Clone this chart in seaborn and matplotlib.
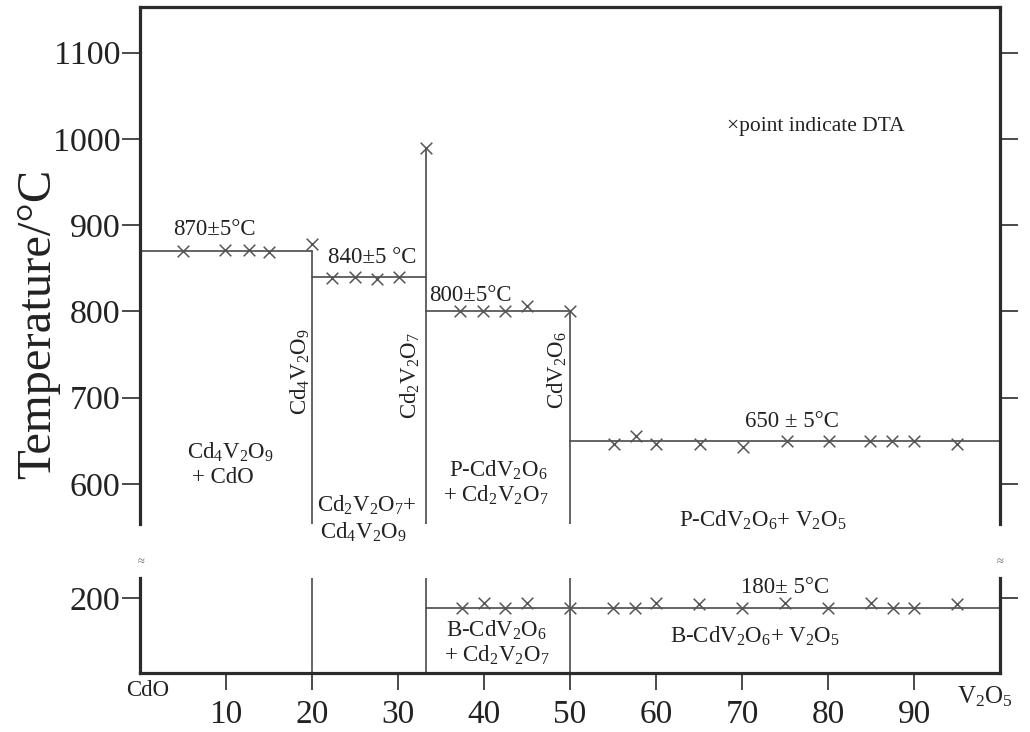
import matplotlib
matplotlib.use("Agg")
import matplotlib.pyplot as plt
import pandas as pd
import seaborn as sns

# ---- phase diagram data (CdO - V2O5), composition in mol% V2O5 ----
# invariant (horizontal) lines
inv_T = [870, 840, 800, 650]
inv_x0 = [0, 20, 33.3, 50]
inv_x1 = [20, 33.3, 50, 100]
# compound lines (vertical)
comp_x = [20, 33.3, 50]
comp_top = [870, 990, 800]
# low-temperature polymorphic transition of CdV2O6
trans_T = 180
trans_x0, trans_x1 = 33.3, 100

# DTA points, high-temperature part
dta_hi_x = [5.0, 9.9, 12.7, 15.0, 20.0,
            22.3, 25.0, 27.6, 30.1, 33.3,
            37.2, 39.9, 42.4, 45.0, 50.0,
            55.1, 57.7, 60.0, 65.1, 70.1, 75.2, 80.1, 84.9, 87.4, 90.0, 95.0]
dta_hi_T = [870, 871, 871, 869, 878,
            839, 840, 838, 840, 989,
            800, 800, 800, 806, 800,
            646, 656, 646, 646, 643, 650, 650, 650, 650, 650, 646]
# DTA points, low-temperature part
dta_lo_x = [37.5, 40.0, 42.5, 45.0, 50.0, 55.0, 57.5, 60.0, 65.0, 70.0,
            75.0, 80.0, 85.0, 87.5, 90.0, 95.0]
dta_lo_T = [180, 190, 180, 190, 180, 180, 180, 190, 188, 179,
            190, 180, 190, 180, 180, 188]

hi_ticks = [600, 700, 800, 900, 1000, 1100]
lo_ticks = [200]
x_ticks = [10, 20, 30, 40, 50, 60, 70, 80, 90]

sns.set_theme(style="white")
plt.rcParams['font.family'] = ['Liberation Serif', 'DejaVu Serif']
plt.rcParams['mathtext.fontset'] = 'custom'
plt.rcParams['mathtext.rm'] = 'Liberation Serif'
plt.rcParams['mathtext.it'] = 'Liberation Serif:italic'
plt.rcParams['mathtext.bf'] = 'Liberation Serif:bold'

LINE = "#4a4a4a"
SPINE = "#2b2b2b"
TXT = "#222222"

fig = plt.figure(figsize=(10.3, 7.32), dpi=100)
ax_hi = fig.add_axes([0.1359, 0.2842, 0.8350, 0.7063])
ax_lo = fig.add_axes([0.1359, 0.0806, 0.8350, 0.1298])

for ax in (ax_hi, ax_lo):
    ax.set_xlim(0, 100)
    ax.set_facecolor("white")
    for s in ax.spines.values():
        s.set_linewidth(2.3)
        s.set_color(SPINE)
ax_hi.set_ylim(553.6, 1153)
ax_lo.set_ylim(50, 240)
ax_hi.spines['bottom'].set_visible(False)
ax_lo.spines['top'].set_visible(False)


def seg(ax, xs, ys):
    sns.lineplot(x=xs, y=ys, ax=ax, color=LINE, linewidth=1.2,
                 estimator=None, sort=False, legend=False)


# invariant lines
for T, a, b in zip(inv_T, inv_x0, inv_x1):
    seg(ax_hi, [a, b], [T, T])
# compound lines through both panels
for cx, top in zip(comp_x, comp_top):
    seg(ax_hi, [cx, cx], [top, 553.6])
    seg(ax_lo, [cx, cx], [240, 50])
seg(ax_lo, [trans_x0, trans_x1], [trans_T, trans_T])

hi = pd.DataFrame({"x": dta_hi_x, "T": dta_hi_T})
lo = pd.DataFrame({"x": dta_lo_x, "T": dta_lo_T})
sns.scatterplot(data=hi, x="x", y="T", ax=ax_hi, marker="x", s=70,
                color="#555555", linewidth=1.1, zorder=5, legend=False)
sns.scatterplot(data=lo, x="x", y="T", ax=ax_lo, marker="x", s=70,
                color="#555555", linewidth=1.1, zorder=5, legend=False)

# axes ticks
ax_hi.set_xticks([])
ax_hi.set_yticks(hi_ticks)
ax_hi.set_yticklabels([str(t) for t in hi_ticks])
ax_hi.tick_params(axis='y', which='both', direction='out', length=13,
                  width=1.2, color=SPINE, labelsize=24.5, pad=1,
                  left=True, right=True, labelcolor=TXT)
ax_lo.set_yticks(lo_ticks)
ax_lo.set_yticklabels([str(t) for t in lo_ticks])
ax_lo.tick_params(axis='y', which='both', direction='out', length=13,
                  width=1.2, color=SPINE, labelsize=24.5, pad=1,
                  left=True, right=True, labelcolor=TXT)
ax_lo.set_xticks(x_ticks)
ax_lo.set_xticklabels([str(t) for t in x_ticks])
ax_lo.tick_params(axis='x', direction='out', length=12, width=1.2,
                  color=SPINE, labelsize=24, pad=7, bottom=True,
                  labelcolor=TXT)
for ax in (ax_hi, ax_lo):
    ax.set_xlabel("")
    ax.set_ylabel("")

fig.text(0.037, 0.558, "Temperature/°C", rotation=90, ha='center',
         va='center', fontsize=35, color=TXT)

# axis break marks
for xf in (0.1369, 0.9709):
    fig.text(xf, 0.232, "≈", ha='center', va='center', fontsize=9,
             color="#666666")

fs = 16.5
kw = dict(ha='center', va='center', fontsize=fs, color=TXT, clip_on=False)

# temperature labels
ax_hi.text(8.7, 895, "870±5°C", **kw)
ax_hi.text(27.0, 862, "840±5 °C", **kw)
ax_hi.text(38.4, 818, "800±5°C", **kw)
ax_hi.text(75.8, 672, "650 ± 5°C", **kw)
ax_lo.text(75.0, 220, "180± 5°C", **kw)
ax_hi.text(68.3, 1014, "×point indicate DTA", ha='left', va='center',
           fontsize=15.5, color=TXT)

# phase fields
ax_hi.text(10.5, 637, r"Cd$_4$V$_2$O$_9$", **kw)
ax_hi.text(9.6, 607, "+ CdO", **kw)
ax_hi.text(26.4, 575, r"Cd$_2$V$_2$O$_7$+", **kw)
ax_hi.text(26.0, 544, r"Cd$_4$V$_2$O$_9$", **kw)
ax_hi.text(41.6, 616, r"P-CdV$_2$O$_6$", **kw)
ax_hi.text(41.4, 587, r"+ Cd$_2$V$_2$O$_7$", **kw)
ax_hi.text(72.4, 558, r"P-CdV$_2$O$_6$+ V$_2$O$_5$", **kw)
ax_lo.text(41.5, 136, r"B-CdV$_2$O$_6$", **kw)
ax_lo.text(41.5, 86, r"+ Cd$_2$V$_2$O$_7$", **kw)
ax_lo.text(71.5, 124, r"B-CdV$_2$O$_6$+ V$_2$O$_5$", **kw)

# compound names along the vertical lines
rkw = dict(ha='center', va='center', fontsize=fs, color=TXT, rotation=90)
ax_hi.text(18.6, 730, r"Cd$_4$V$_2$O$_9$", **rkw)
ax_hi.text(31.4, 726, r"Cd$_2$V$_2$O$_7$", **rkw)
ax_hi.text(48.5, 732, r"CdV$_2$O$_6$", **rkw)

# end members
ax_lo.text(0.9, 16, "CdO", **kw)
ax_lo.text(98.3, 2, r"V$_2$O$_5$", ha='center', va='center', fontsize=18,
           color=TXT, clip_on=False)

fig.savefig("out.png", dpi=100, facecolor="white")
